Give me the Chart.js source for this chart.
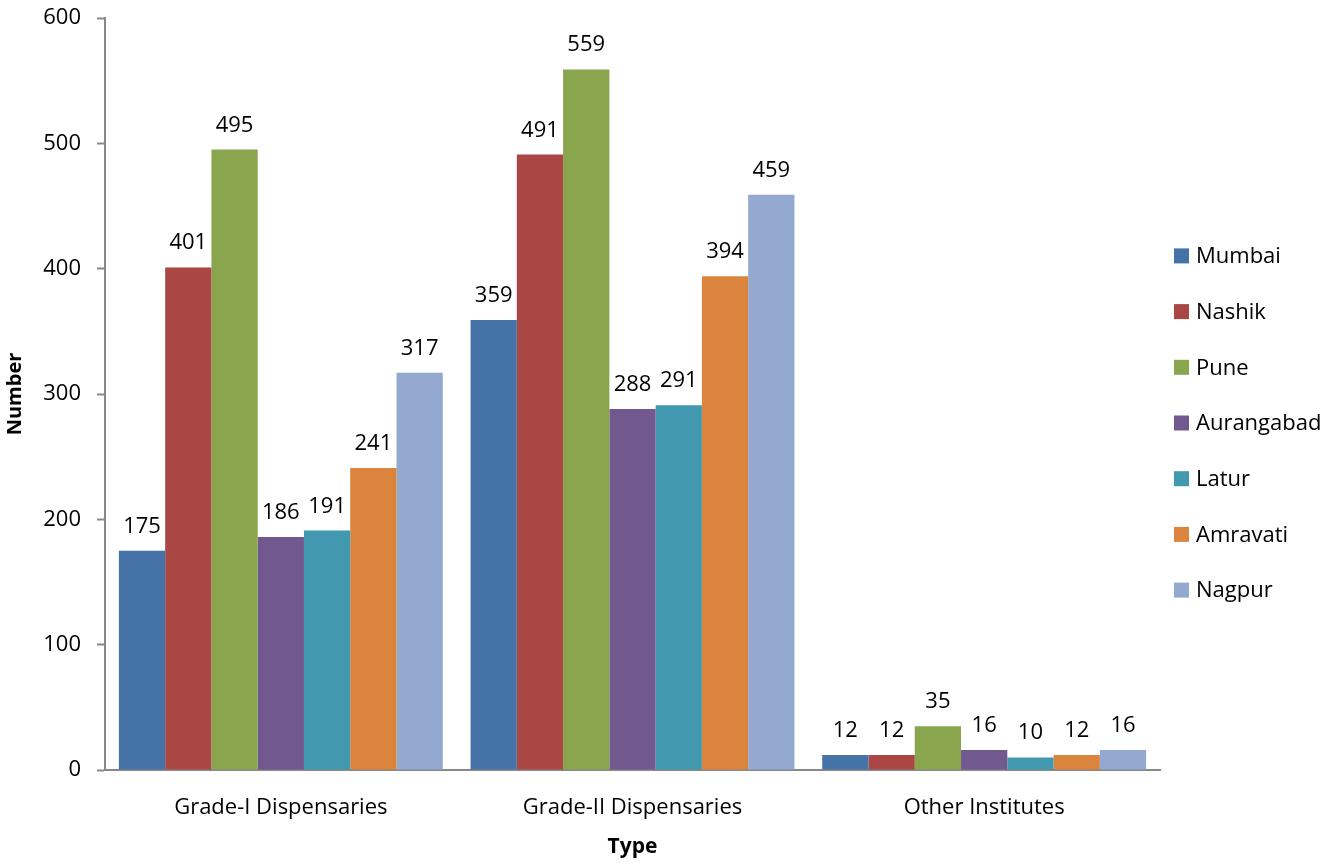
<!DOCTYPE html>
<html>
<head>
<meta charset="utf-8">
<script src="https://cdn.jsdelivr.net/npm/chart.js@4"></script>
<style>
html,body{margin:0;padding:0;background:#fff;}
#wrap{width:1343px;height:864px;position:relative;}
</style>
</head>
<body>
<div id="wrap"><canvas id="c" width="1343" height="864"></canvas></div>
<script>
const categories = ["Grade-I Dispensaries", "Grade-II Dispensaries", "Other Institutes"];
const seriesNames = ["Mumbai", "Nashik", "Pune", "Aurangabad", "Latur", "Amravati", "Nagpur"];
const mumbai = [175, 359, 12];
const nashik = [401, 491, 12];
const pune = [495, 559, 35];
const aurangabad = [186, 288, 16];
const latur = [191, 291, 10];
const amravati = [241, 394, 12];
const nagpur = [317, 459, 16];
const yTicks = [0, 100, 200, 300, 400, 500, 600];
const colors = ["#4572A7", "#AA4643", "#89A54E", "#71588F", "#4198AF", "#DB843D", "#93A9CF"];

const seriesValues = [mumbai, nashik, pune, aurangabad, latur, amravati, nagpur];
const FONT = "'Open Sans', 'Liberation Sans', sans-serif";

const labelPlugin = {
  id: 'barLabels',
  afterDatasetsDraw(chart) {
    const ctx = chart.ctx;
    ctx.save();
    ctx.font = "22px " + FONT;
    ctx.fillStyle = "#000";
    ctx.textAlign = "center";
    ctx.textBaseline = "alphabetic";
    chart.data.datasets.forEach((ds, i) => {
      const meta = chart.getDatasetMeta(i);
      meta.data.forEach((bar, j) => {
        ctx.fillText(String(ds.data[j]), bar.x, bar.y - 18);
      });
    });
    ctx.restore();
  }
};

const legendPlugin = {
  id: 'sideLegend',
  afterDraw(chart) {
    const ctx = chart.ctx;
    const ds = chart.data.datasets;
    const spacing = 55.7;
    const centerY = 423;
    const startY = centerY - spacing * (ds.length - 1) / 2;
    const boxX = chart.chartArea.right + 14;
    ctx.save();
    ctx.font = "22px " + FONT;
    ctx.textAlign = "left";
    ctx.textBaseline = "middle";
    ds.forEach((d, i) => {
      const y = startY + i * spacing;
      ctx.fillStyle = d.backgroundColor;
      ctx.fillRect(boxX, y - 7.5, 15, 15);
      ctx.fillStyle = "#000";
      ctx.fillText(d.label, boxX + 22, y + 1);
    });
    ctx.restore();
  }
};

new Chart(document.getElementById('c'), {
  type: 'bar',
  data: {
    labels: categories,
    datasets: seriesNames.map((n, i) => ({
      label: n,
      data: seriesValues[i],
      backgroundColor: colors[i],
      borderColor: colors[i],
      borderWidth: 0,
      categoryPercentage: 0.921,
      barPercentage: 1.0
    }))
  },
  options: {
    responsive: false,
    animation: false,
    layout: { padding: { top: 18, right: 183, left: 0, bottom: 0 } },
    plugins: {
      legend: { display: false },
      tooltip: { enabled: false }
    },
    scales: {
      x: {
        afterFit(scale) { scale.height = 94; scale.paddingLeft = 0; scale.paddingRight = 0; },
        grid: { display: true, drawOnChartArea: false, drawTicks: false },
        border: { display: true, color: '#888', width: 2 },
        ticks: { font: { family: FONT, size: 22 }, color: '#000', padding: 25 },
        title: { display: true, text: 'Type', font: { family: FONT, size: 21, weight: 'bold' }, color: '#000', padding: { top: 0, bottom: 4 } }
      },
      y: {
        min: 0, max: 600,
        afterBuildTicks(scale) { scale.ticks = yTicks.map(v => ({ value: v })); },
        afterFit(scale) { scale.width = 105; scale.paddingTop = 0; scale.paddingBottom = 0; },
        grid: { display: true, drawOnChartArea: false, drawTicks: true, tickLength: 8, color: '#888', tickWidth: 2 },
        border: { display: true, color: '#888', width: 2 },
        ticks: { font: { family: FONT, size: 22 }, color: '#000', padding: 16 },
        title: { display: true, text: 'Number', font: { family: FONT, size: 20, weight: 'bold' }, color: '#000', padding: { top: 3, bottom: 0 } }
      }
    }
  },
  plugins: [labelPlugin, legendPlugin]
});
</script>
</body>
</html>
